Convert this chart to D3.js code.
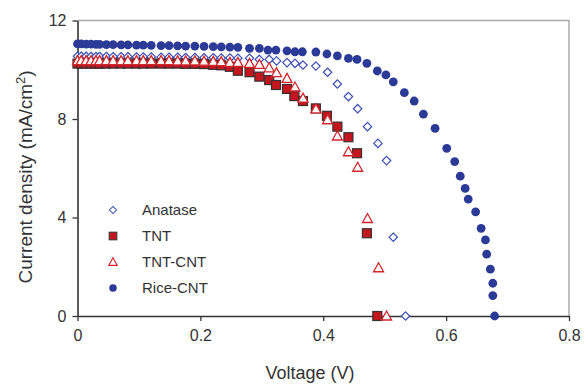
<!DOCTYPE html>
<html>
<head>
<meta charset="utf-8">
<script src="https://cdn.jsdelivr.net/npm/d3@7"></script>
<style>
  body { margin: 0; background: #fff; }
  text { font-family: "Liberation Sans", Arial, sans-serif; fill: #333; }
</style>
</head>
<body>
<div id="chart"></div>
<script>
// ---- data (voltage V, current density mA/cm2) ----
const anatase = [
  [0.000, 10.55], [0.006, 10.55], [0.014, 10.55], [0.022, 10.54], [0.030, 10.54], [0.036, 10.54],
  [0.047, 10.54], [0.058, 10.53], [0.071, 10.53], [0.082, 10.53], [0.096, 10.52], [0.107, 10.52],
  [0.120, 10.52], [0.136, 10.51], [0.149, 10.51], [0.163, 10.51], [0.176, 10.50], [0.191, 10.50],
  [0.206, 10.49], [0.221, 10.49], [0.234, 10.48], [0.248, 10.48], [0.261, 10.47], [0.280, 10.47],
  [0.296, 10.42], [0.312, 10.42], [0.324, 10.36], [0.341, 10.29], [0.354, 10.26], [0.367, 10.19],
  [0.388, 10.15], [0.407, 9.90], [0.423, 9.42], [0.441, 8.91], [0.456, 8.42], [0.472, 7.69],
  [0.489, 7.01], [0.503, 6.31], [0.514, 3.20], [0.534, 0.00]
];
const tnt = [
  [0.000, 10.25], [0.006, 10.25], [0.014, 10.25], [0.022, 10.25], [0.030, 10.25], [0.036, 10.25],
  [0.047, 10.25], [0.058, 10.25], [0.071, 10.25], [0.082, 10.25], [0.096, 10.25], [0.107, 10.25],
  [0.120, 10.25], [0.136, 10.25], [0.149, 10.25], [0.163, 10.25], [0.176, 10.24], [0.191, 10.24],
  [0.206, 10.23], [0.221, 10.20], [0.234, 10.18], [0.248, 10.12], [0.261, 9.96], [0.280, 9.90],
  [0.296, 9.72], [0.312, 9.58], [0.323, 9.38], [0.341, 9.22], [0.353, 8.93], [0.367, 8.73],
  [0.388, 8.43], [0.406, 8.13], [0.423, 7.69], [0.441, 7.26], [0.455, 6.61], [0.471, 3.36],
  [0.488, 0.00]
];
const tntCnt = [
  [0.000, 10.37], [0.006, 10.37], [0.014, 10.37], [0.022, 10.37], [0.030, 10.37], [0.036, 10.37],
  [0.047, 10.37], [0.058, 10.37], [0.071, 10.37], [0.082, 10.37], [0.096, 10.37], [0.107, 10.37],
  [0.120, 10.37], [0.136, 10.37], [0.149, 10.37], [0.163, 10.36], [0.176, 10.36], [0.191, 10.36],
  [0.206, 10.35], [0.221, 10.34], [0.234, 10.33], [0.248, 10.30], [0.261, 10.30], [0.280, 10.26],
  [0.296, 10.22], [0.312, 10.08], [0.324, 9.88], [0.341, 9.65], [0.354, 9.30], [0.367, 8.85],
  [0.388, 8.41], [0.407, 7.97], [0.423, 7.31], [0.441, 6.67], [0.456, 6.04], [0.472, 3.96],
  [0.490, 1.96], [0.503, 0.00]
];
const riceCnt = [
  [0.000, 11.05], [0.006, 11.05], [0.014, 11.04], [0.022, 11.04], [0.030, 11.03], [0.036, 11.03],
  [0.047, 11.02], [0.058, 11.02], [0.071, 11.01], [0.082, 11.01], [0.096, 11.00], [0.107, 11.00],
  [0.120, 10.99], [0.136, 10.98], [0.149, 10.98], [0.163, 10.97], [0.176, 10.96], [0.191, 10.96],
  [0.206, 10.95], [0.221, 10.94], [0.234, 10.93], [0.248, 10.92], [0.261, 10.91], [0.280, 10.87],
  [0.296, 10.87], [0.310, 10.80], [0.323, 10.80], [0.341, 10.77], [0.354, 10.73], [0.366, 10.73],
  [0.388, 10.72], [0.406, 10.64], [0.423, 10.56], [0.441, 10.46], [0.455, 10.42], [0.471, 10.26],
  [0.488, 9.95], [0.502, 9.79], [0.514, 9.51], [0.532, 9.07], [0.548, 8.73], [0.563, 8.20],
  [0.582, 7.62], [0.601, 6.81], [0.614, 6.27], [0.623, 5.68], [0.631, 5.18], [0.636, 4.75],
  [0.648, 4.23], [0.657, 3.56], [0.664, 3.09], [0.666, 2.51], [0.672, 1.90], [0.676, 1.33],
  [0.676, 0.83], [0.679, 0.00]
];

const seriesNames = ["Anatase", "TNT", "TNT-CNT", "Rice-CNT"];
const xTicks = [0, 0.2, 0.4, 0.6, 0.8];
const yTicks = [0, 4, 8, 12];

const width = 588, height = 386;
const margin = { top: 20.5, right: 19, bottom: 70, left: 77.5 };
const innerWidth = width - margin.left - margin.right;
const innerHeight = 316 - margin.top;

const svg = d3.select("#chart").append("svg")
  .attr("width", width)
  .attr("height", height);

const chart = svg.append("g")
  .attr("transform", `translate(${margin.left}, ${margin.top})`);

const x = d3.scaleLinear().domain([0, 0.8]).range([0, innerWidth]);
const y = d3.scaleLinear().domain([0, 12]).range([innerHeight, 0]);

// frame (top and right, light grey)
chart.append("path")
  .attr("d", `M0,0H${innerWidth}V${innerHeight}`)
  .attr("fill", "none")
  .attr("stroke", "#aaa")
  .attr("stroke-width", 1.5);

// axes
const xAxis = chart.append("g")
  .attr("transform", `translate(0, ${innerHeight})`)
  .call(d3.axisBottom(x).tickValues(xTicks).tickFormat(d => d === 0 ? "0" : d3.format(".1f")(d)).tickSize(5).tickSizeOuter(0));
const yAxis = chart.append("g")
  .call(d3.axisLeft(y).tickValues(yTicks).tickSize(5).tickSizeOuter(0));

[xAxis, yAxis].forEach(a => {
  a.select(".domain").attr("stroke", "#333").attr("stroke-width", 1.6);
  a.selectAll(".tick line").attr("stroke", "#333").attr("stroke-width", 1.3);
  a.selectAll(".tick text").attr("fill", "#333").style("font-size", "16px");
});
xAxis.selectAll(".tick text").attr("dy", "1.05em");
yAxis.selectAll(".tick text").attr("dx", "-3px");

// ---- markers ----
const blue = "#2b3a97", red = "#c4161e";
const sym = {
  "Anatase": g => g.append("path").attr("d", "M0,-4.2L4.2,0L0,4.2L-4.2,0Z")
    .attr("fill", "#fff").attr("stroke", "#3a4db5").attr("stroke-width", 1.2),
  "TNT": g => g.append("rect").attr("x", -4.5).attr("y", -4.5).attr("width", 9).attr("height", 9)
    .attr("fill", red).attr("stroke", "#3a3030").attr("stroke-width", 1.2),
  "TNT-CNT": g => g.append("path").attr("d", "M0,-5L5,4L-5,4Z")
    .attr("fill", "#fff").attr("stroke", "#d3262c").attr("stroke-width", 1.3),
  "Rice-CNT": g => g.append("circle").attr("r", 4.4).attr("fill", blue)
};

const allData = [anatase, tnt, tntCnt, riceCnt];

allData.forEach((data, i) => {
  const name = seriesNames[i];
  chart.append("g")
    .selectAll("g")
    .data(data)
    .enter()
    .append("g")
    .attr("transform", d => `translate(${x(d[0])}, ${y(d[1])})`)
    .each(function () { sym[name](d3.select(this)); });
});

// ---- legend ----
const legend = svg.append("g").attr("transform", "translate(113, 210)");
seriesNames.forEach((name, i) => {
  const g = legend.append("g").attr("transform", `translate(0, ${i * 26})`);
  const m = g.append("g").attr("transform", "scale(0.85)");
  sym[name](m);
  g.append("text")
    .attr("x", 29)
    .attr("y", 5)
    .style("font-size", "15px")
    .text(name);
});

// ---- axis titles ----
svg.append("text")
  .attr("x", 310)
  .attr("y", 379)
  .attr("text-anchor", "middle")
  .style("font-size", "18px")
  .text("Voltage (V)");

const yTitle = svg.append("text")
  .attr("transform", "rotate(-90)")
  .attr("x", -177)
  .attr("y", 32)
  .attr("text-anchor", "middle")
  .style("font-size", "19px");
yTitle.append("tspan").text("Current density (mA/cm");
yTitle.append("tspan").attr("dy", "-7").style("font-size", "13px").text("2");
yTitle.append("tspan").attr("dy", "7").text(")");
</script>
</body>
</html>
